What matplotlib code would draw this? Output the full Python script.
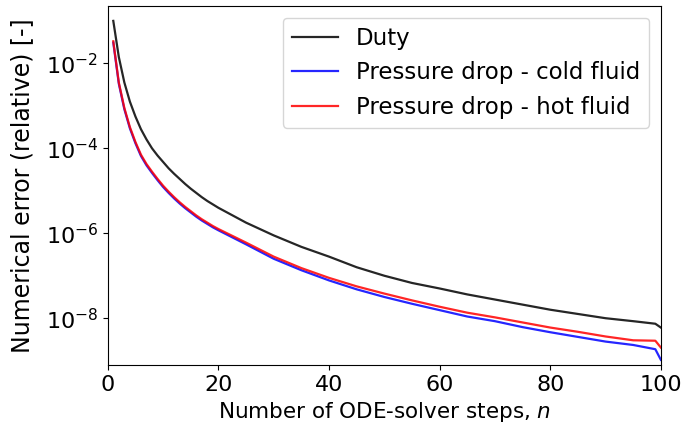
import matplotlib
matplotlib.use("Agg")
import matplotlib.pyplot as plt
import matplotlib.ticker as mticker
import numpy as np

n_steps = [1, 2, 3, 4, 5, 6, 7, 8, 9, 10, 11, 12, 13, 14, 15, 16, 17, 18, 19, 20,
           25, 30, 35, 40, 45, 50, 55, 60, 65, 70, 75, 80, 85, 90, 95, 99, 100]
log_duty = [-1.00, -1.85, -2.45, -2.90, -3.25, -3.55, -3.79, -4.00, -4.17, -4.32,
            -4.47, -4.60, -4.72, -4.84, -4.95, -5.05, -5.15, -5.24, -5.32, -5.40,
            -5.75, -6.05, -6.32, -6.55, -6.80, -7.00, -7.17, -7.30, -7.44,
            -7.56, -7.68, -7.80, -7.90, -8.00, -8.07, -8.13, -8.22]
log_cold = [-1.51, -2.48, -3.08, -3.53, -3.88, -4.18, -4.40, -4.58, -4.75, -4.91,
            -5.05, -5.18, -5.30, -5.41, -5.51, -5.61, -5.70, -5.78, -5.86, -5.93,
            -6.26, -6.60, -6.87, -7.11, -7.32, -7.50, -7.66, -7.81, -7.96,
            -8.07, -8.21, -8.33, -8.44, -8.55, -8.63, -8.73, -8.98]
log_hot = [-1.48, -2.45, -3.05, -3.50, -3.85, -4.15, -4.37, -4.55, -4.72, -4.88,
           -5.02, -5.15, -5.27, -5.38, -5.48, -5.58, -5.67, -5.75, -5.83, -5.90,
           -6.22, -6.55, -6.82, -7.05, -7.25, -7.42, -7.58, -7.73, -7.87,
           -7.98, -8.10, -8.22, -8.32, -8.43, -8.52, -8.53, -8.69]
labels = ["Duty", "Pressure drop - cold fluid", "Pressure drop - hot fluid"]
colors = ["black", "blue", "red"]

fig = plt.figure(figsize=(6.82, 4.36), dpi=100)
ax = fig.add_axes([0.158, 0.163, 0.811, 0.823])
for ys, lab, c in zip([log_duty, log_cold, log_hot], labels, colors):
    ax.plot(n_steps, 10.0 ** np.array(ys), color=c, lw=1.6, label=lab, alpha=0.85)

ax.set_yscale("log")
ax.set_xlim(0, 100)
ax.set_ylim(10 ** -9.10, 10 ** -0.652)
ax.set_xticks([0, 20, 40, 60, 80, 100])
ax.yaxis.set_major_locator(mticker.FixedLocator([1e-8, 1e-6, 1e-4, 1e-2]))
ax.yaxis.set_minor_locator(mticker.NullLocator())
ax.tick_params(labelsize=16)
ax.set_xlabel("Number of ODE-solver steps, $n$", fontsize=15.5)
ax.set_ylabel("Numerical error (relative) [-]", fontsize=17, labelpad=8)
ax.legend(loc="upper right", fontsize=16.5)

fig.savefig("out.png", dpi=100)
